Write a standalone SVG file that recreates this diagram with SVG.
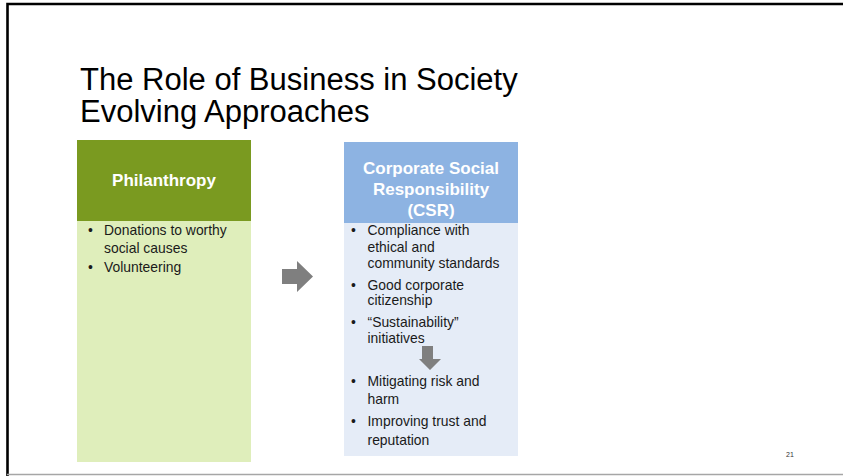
<svg xmlns="http://www.w3.org/2000/svg" width="843" height="476" viewBox="0 0 843 476">
<style>
text{font-family:"Liberation Sans",Arial,sans-serif}
.title{font-size:31px;fill:#000}
.hd{font-size:17px;font-weight:bold;fill:#fff;text-anchor:middle}
.bd{font-size:13.9px;fill:#1a1a1a}
.arrow{fill:#7f7f7f}
</style>
<rect width="843" height="476" fill="#fff"/>
<path d="M7.5,476 V4 H843" fill="none" stroke="#000" stroke-width="2.6"/>
<line x1="7" y1="474.5" x2="843" y2="474.5" stroke="#a6a6a6" stroke-width="1.5"/>
<g id="title">
<text class="title" x="80" y="90">The Role of Business in Society</text>
<text class="title" x="80" y="122">Evolving Approaches</text>
</g>
<g id="philanthropy">
<rect x="77" y="140" width="174" height="81" fill="#7a9a20"/>
<rect x="77" y="221" width="174" height="241" fill="#dfeebb"/>
<text class="hd" x="164" y="186">Philanthropy</text>
<text class="bd" x="88" y="235">•</text>
<text class="bd" x="104" y="235">Donations to worthy</text>
<text class="bd" x="104" y="253">social causes</text>
<text class="bd" x="88" y="272">•</text>
<text class="bd" x="104" y="272">Volunteering</text>
</g>
<g id="csr">
<rect x="344" y="142" width="174" height="81" fill="#8db3e2"/>
<rect x="344" y="223" width="174" height="233" fill="#e5ecf7"/>
<text class="hd" x="431" y="174">Corporate Social</text>
<text class="hd" x="431" y="195">Responsibility</text>
<text class="hd" x="431" y="216">(CSR)</text>
<text class="bd" x="351" y="235">•</text>
<text class="bd" x="367.5" y="235">Compliance with</text>
<text class="bd" x="367.5" y="252">ethical and</text>
<text class="bd" x="367.5" y="268">community standards</text>
<text class="bd" x="351" y="290">•</text>
<text class="bd" x="367.5" y="290">Good corporate</text>
<text class="bd" x="367.5" y="305">citizenship</text>
<text class="bd" x="351" y="327">•</text>
<text class="bd" x="367.5" y="327">“Sustainability”</text>
<text class="bd" x="367.5" y="343">initiatives</text>
<text class="bd" x="351" y="386">•</text>
<text class="bd" x="367.5" y="386">Mitigating risk and</text>
<text class="bd" x="367.5" y="404">harm</text>
<text class="bd" x="351" y="426">•</text>
<text class="bd" x="367.5" y="426">Improving trust and</text>
<text class="bd" x="367.5" y="445">reputation</text>
</g>
<g id="connectors">
<path class="arrow" d="M282,269 H297 V261 L313,276.5 L297,292 V284 H282 Z"/>
<path class="arrow" d="M422,346 H433 V359 H441 L430,370 L419,359 H422 Z"/>
</g>
<text x="786" y="457" font-size="7" fill="#333" font-family="Liberation Sans,sans-serif">21</text>
</svg>
